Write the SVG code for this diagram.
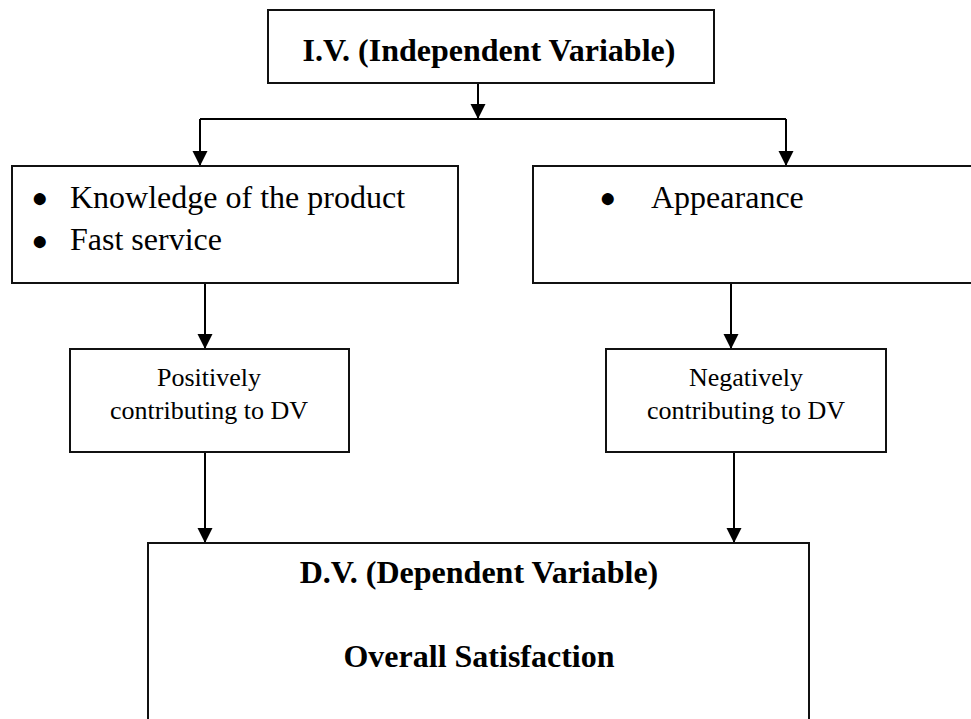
<svg xmlns="http://www.w3.org/2000/svg" width="971" height="719" viewBox="0 0 971 719">
<style>
.box{fill:#fff;stroke:#111;stroke-width:2}
.conn{fill:none;stroke:#000;stroke-width:2}
.t{font-family:"Liberation Serif","Times New Roman",serif;fill:#000}
.b{font-weight:bold;font-size:32px}
.r{font-size:32px}
.s{font-size:26px}
.bul{font-family:"Liberation Serif","Times New Roman",serif;fill:#000;font-size:28px;text-anchor:middle}
</style>
<defs>
<marker id="ah" markerUnits="userSpaceOnUse" markerWidth="16" markerHeight="16" refX="15" refY="7.5" orient="auto">
<path d="M0,0 L15,7.5 L0,15 z" fill="#000"/>
</marker>
</defs>
<rect width="971" height="719" fill="#fff"/>
<g id="connectors">
<line class="conn" x1="478" y1="83" x2="478" y2="119" marker-end="url(#ah)"/>
<polyline class="conn" points="200,119 786,119"/>
<line class="conn" x1="200" y1="119" x2="200" y2="166" marker-end="url(#ah)"/>
<line class="conn" x1="786" y1="119" x2="786" y2="166" marker-end="url(#ah)"/>
<line class="conn" x1="205" y1="283" x2="205" y2="349" marker-end="url(#ah)"/>
<line class="conn" x1="731" y1="283" x2="731" y2="349" marker-end="url(#ah)"/>
<line class="conn" x1="205" y1="452" x2="205" y2="543" marker-end="url(#ah)"/>
<line class="conn" x1="734" y1="452" x2="734" y2="543" marker-end="url(#ah)"/>
</g>
<g id="iv">
<rect class="box" x="268" y="10" width="446" height="73"/>
<text class="t b" x="489" y="61" text-anchor="middle">I.V. (Independent Variable)</text>
</g>
<g id="left">
<rect class="box" x="12" y="166" width="446" height="117"/>
<text class="bul" x="40" y="207">●</text>
<text class="t r" x="70" y="208">Knowledge of the product</text>
<text class="bul" x="40" y="250">●</text>
<text class="t r" x="70" y="250">Fast service</text>
</g>
<g id="right">
<rect class="box" x="533" y="166" width="445" height="117"/>
<text class="bul" x="608" y="207">●</text>
<text class="t r" x="651" y="208">Appearance</text>
</g>
<g id="positive">
<rect class="box" x="70" y="349" width="279" height="103"/>
<text class="t s" x="209" y="386" text-anchor="middle">Positively</text>
<text class="t s" x="209" y="419" text-anchor="middle">contributing to DV</text>
</g>
<g id="negative">
<rect class="box" x="606" y="349" width="280" height="103"/>
<text class="t s" x="746" y="386" text-anchor="middle">Negatively</text>
<text class="t s" x="746" y="419" text-anchor="middle">contributing to DV</text>
</g>
<g id="dv">
<rect class="box" x="148" y="543" width="661" height="190"/>
<text class="t b" x="479" y="583" text-anchor="middle">D.V. (Dependent Variable)</text>
<text class="t b" x="479" y="667" text-anchor="middle">Overall Satisfaction</text>
</g>
</svg>
